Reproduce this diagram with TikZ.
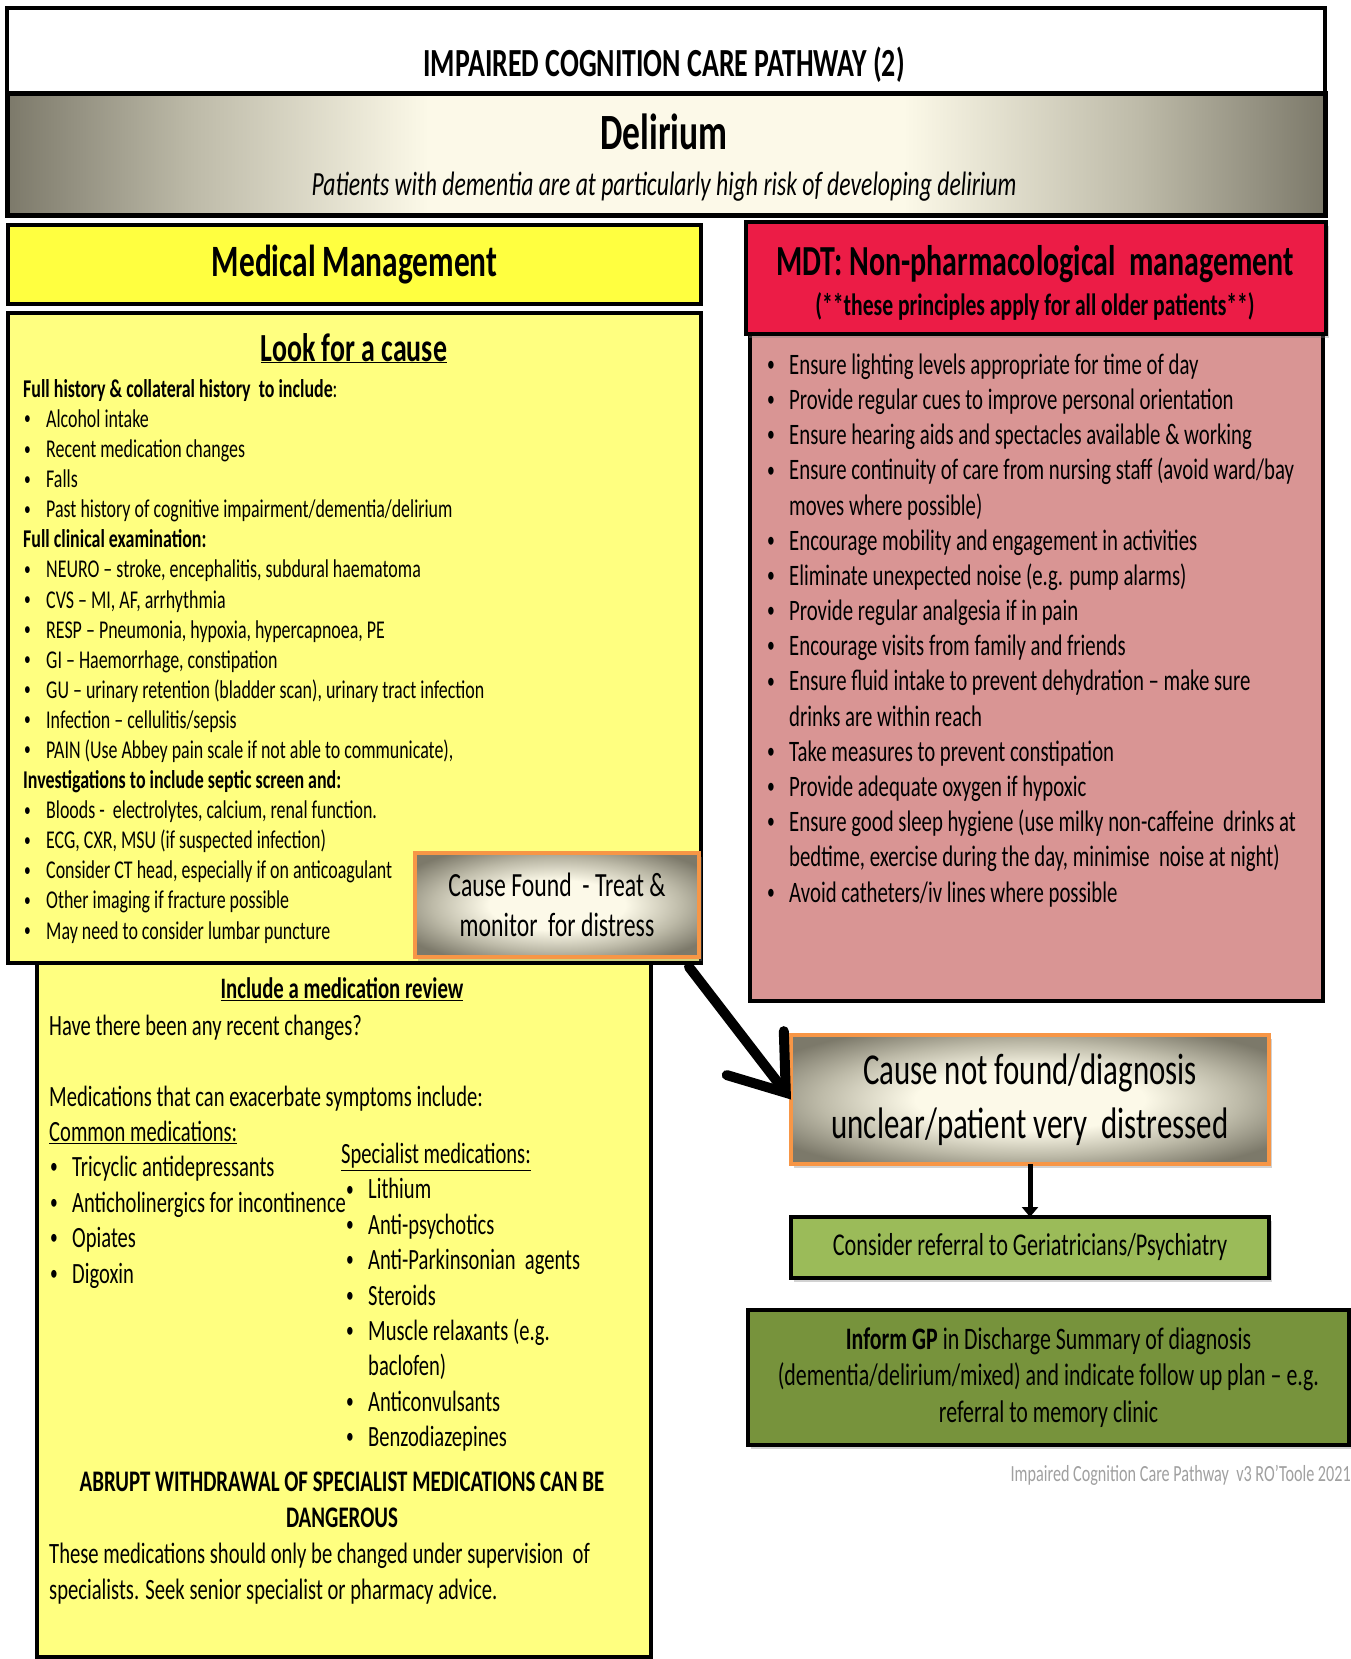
\documentclass[tikz,border=0pt]{standalone}
\usepackage{fontspec}
\setmainfont{Carlito}[FakeStretch=0.7]
\usepackage{xcolor}
\usepackage{graphicx}
\usetikzlibrary{arrows.meta,positioning,shadows}
\definecolor{sunyellow}{HTML}{FFFF40}
\definecolor{paleyellow}{HTML}{FFFF80}
\definecolor{mdtred}{HTML}{EC1C46}
\definecolor{mdtpink}{HTML}{D99594}
\definecolor{calmorange}{HTML}{F79646}
\definecolor{leafgreen}{HTML}{9BBB59}
\definecolor{olivegreen}{HTML}{77933C}
\definecolor{shadegrey}{HTML}{7C796A}
\definecolor{shademid}{HTML}{BDBAA8}
\definecolor{shadecream}{HTML}{FCF9E8}
\definecolor{footgrey}{HTML}{A0A0A0}
\pgfdeclarehorizontalshading{plateau}{100bp}{color(0bp)=(shadegrey); color(25bp)=(shadegrey); color(32bp)=(shademid); color(41bp)=(shadecream); color(59bp)=(shadecream); color(68bp)=(shademid); color(75bp)=(shadegrey); color(100bp)=(shadegrey)}
\pgfdeclareradialshading{glow}{\pgfpoint{0bp}{0bp}}{color(0bp)=(shadecream); color(12bp)=(shadecream); color(22bp)=(shademid); color(31bp)=(shadegrey); color(50bp)=(shadegrey)}
\tikzset{
  box/.style={draw=black, line width=4bp, inner sep=0pt, outer sep=0pt, anchor=north west, align=center},
  yellowbox/.style={box, fill=paleyellow},
  shadebox/.style={box, draw=calmorange, shading=glow},
  softshadow/.style={drop shadow={shadow xshift=3bp, shadow yshift=-4bp, opacity=0.35}},
  txt/.style={inner sep=0pt, anchor=base west, align=left},
  bigarrow/.style={line width=10bp, line cap=round, line join=round, -{Straight Barb[length=50bp, width=72bp, line cap=round]}},
  downarrow/.style={line width=5bp, -{Triangle[length=10bp, width=16bp]}}
}
\newcommand{\fs}[2]{\fontsize{#1}{#2}\selectfont}
\newcommand{\bul}{\makebox[23bp][l]{\hspace{1bp}\raisebox{.1em}{\scalebox{.75}{\textbullet}}}}

\begin{document}
\begin{tikzpicture}[x=1bp, y=-1bp]
  \useasboundingbox[fill=white] (0,0) rectangle (1351,1659);

  % banner
  \node[box, fill=white, minimum width=1318bp, minimum height=85bp] (titlebox) at (7,8) {};
  \node[txt, anchor=base, font=\fs{40}{46}\bfseries] (titletext) at (664,77) {IMPAIRED COGNITION CARE PATHWAY (2)};
  \node[box, line width=5bp, shading=plateau, minimum width=1318bp, minimum height=122bp] (deliriumbox) at (7,93) {};
  \node[txt, anchor=base, font=\fs{51}{58}\bfseries] (delirium) at (664,149) {Delirium};
  \node[txt, anchor=base, font=\fs{34}{40}\itshape] (risk) at (664,195) {Patients with dementia are at particularly high risk of developing delirium};

  % medical side
  \node[box, fill=sunyellow, minimum width=693bp, minimum height=79bp, font=\fs{45}{52}\bfseries] (medmgmt) at (8,225) {Medical Management};
  \node[yellowbox, minimum width=614bp, minimum height=694bp] (reviewbox) at (37,963) {};
  \node[yellowbox, minimum width=693bp, minimum height=650bp] (causebox) at (8,313) {};
  \node[txt, anchor=base, font=\fs{40}{46}\bfseries] (lookhead) at (354,361) {\underline{Look for a cause}};
  % anchored on the baseline of the last line
  \node[txt, font=\fs{25.7}{30.2}] (causelist) at (23,939) {%
    \textbf{Full history \& collateral history\ \ to include}:\\
    \bul Alcohol intake\\
    \bul Recent medication changes\\
    \bul Falls\\
    \bul Past history of cognitive impairment/dementia/delirium\\
    \textbf{Full clinical examination:}\\
    \bul NEURO – stroke, encephalitis, subdural haematoma\\
    \bul CVS – MI, AF, arrhythmia\\
    \bul RESP – Pneumonia, hypoxia, hypercapnoea, PE\\
    \bul GI – Haemorrhage, constipation\\
    \bul GU – urinary retention (bladder scan), urinary tract infection\\
    \bul Infection – cellulitis/sepsis\\
    \bul PAIN (Use Abbey pain scale if not able to communicate),\\
    \textbf{Investigations to include septic screen and:}\\
    \bul Bloods -\ \ electrolytes, calcium, renal function.\\
    \bul ECG, CXR, MSU (if suspected infection)\\
    \bul Consider CT head, especially if on anticoagulant\\
    \bul Other imaging if fracture possible\\
    \bul May need to consider lumbar puncture};
  \node[shadebox, softshadow, minimum width=284bp, minimum height=104bp, font=\fs{34}{40}] (found) at (415,853) {Cause Found\ \ - Treat \&\\monitor\ \ for distress};

  \node[txt, anchor=base, font=\fs{29.8}{34}\bfseries] (medhead) at (342,998.6) {\underline{Include a medication review}};
  \node[txt, font=\fs{29.5}{35.5}] (commonlist) at (49,1283) {%
    Have there been any recent changes?\\
    \mbox{}\\
    Medications that can exacerbate symptoms include:\\
    \underline{Common medications:}\\
    \bul Tricyclic antidepressants\\
    \bul Anticholinergics for incontinence\\
    \bul Opiates\\
    \bul Digoxin};
  \node[txt, font=\fs{29.5}{35.5}] (speclist) at (341,1446.5) {%
    \underline{Specialist medications:}\\
    \hspace*{4bp}\bul Lithium\\
    \hspace*{4bp}\bul Anti-psychotics\\
    \hspace*{4bp}\bul Anti-Parkinsonian\ \ agents\\
    \hspace*{4bp}\bul Steroids\\
    \hspace*{4bp}\bul Muscle relaxants (e.g.\\
    \hspace*{27bp}baclofen)\\
    \hspace*{4bp}\bul Anticonvulsants\\
    \hspace*{4bp}\bul Benzodiazepines};
  \node[txt, anchor=base, align=center, font=\fs{30}{36}\bfseries] (abrupt) at (342,1527.7) {ABRUPT WITHDRAWAL OF SPECIALIST MEDICATIONS CAN BE\\DANGEROUS};
  \node[txt, font=\fs{29.6}{36}] (supervise) at (49,1599.5) {%
    These medications should only be changed under supervision\ \ of\\
    specialists. Seek senior specialist or pharmacy advice.};

  % MDT side
  \node[box, fill=mdtpink, minimum width=573bp, minimum height=667bp] (mdtbody) at (750,334) {};
  \node[box, softshadow, fill=mdtred, minimum width=580bp, minimum height=112bp] (mdthead) at (746,222) {};
  \node[txt, anchor=base, font=\fs{43}{50}\bfseries] (mdttitle) at (1035,275) {MDT: Non-pharmacological\ \ management};
  \node[txt, anchor=base, font=\fs{31}{36}\bfseries] (mdtnote) at (1035,315) {(**these principles apply for all older patients**)};
  \node[txt, font=\fs{29.8}{35.3}] (mdtlist) at (766,902) {%
    \bul Ensure lighting levels appropriate for time of day\\
    \bul Provide regular cues to improve personal orientation\\
    \bul Ensure hearing aids and spectacles available \& working\\
    \bul Ensure continuity of care from nursing staff (avoid ward/bay\\
    \hspace*{23bp}moves where possible)\\
    \bul Encourage mobility and engagement in activities\\
    \bul Eliminate unexpected noise (e.g. pump alarms)\\
    \bul Provide regular analgesia if in pain\\
    \bul Encourage visits from family and friends\\
    \bul Ensure fluid intake to prevent dehydration – make sure\\
    \hspace*{23bp}drinks are within reach\\
    \bul Take measures to prevent constipation\\
    \bul Provide adequate oxygen if hypoxic\\
    \bul Ensure good sleep hygiene (use milky non-caffeine\ \ drinks at\\
    \hspace*{23bp}bedtime, exercise during the day, minimise\ \ noise at night)\\
    \bul Avoid catheters/iv lines where possible};

  % escalation
  \node[shadebox, softshadow, minimum width=478bp, minimum height=129bp, font=\fs{44.3}{54}] (notfound) at (791,1035) {Cause not found/diagnosis\\unclear/patient very\ \ distressed};
  \node[box, softshadow, fill=leafgreen, minimum width=478bp, minimum height=61bp, font=\fs{31.9}{36}, anchor=north, below=53bp of notfound] (referral) {Consider referral to Geriatricians/Psychiatry};
  \node[box, softshadow, fill=olivegreen, minimum width=601bp, minimum height=135bp, font=\fs{31.4}{37}] (informgp) at (748,1310) {\textbf{Inform GP} in Discharge Summary of diagnosis\\(dementia/delirium/mixed) and indicate follow up plan – e.g.\\referral to memory clinic};
  \node[txt, anchor=base east, font=\fs{23.2}{26}, text=footgrey] (footer) at (1351,1481.5) {Impaired Cognition Care Pathway\ \ v3 RO'Toole 2021};

  \draw[bigarrow] ([shift={(-10,10)}]found.south east) -- (notfound.west);
  \draw[downarrow] (notfound.south) -- (referral.north);
\end{tikzpicture}
\end{document}
